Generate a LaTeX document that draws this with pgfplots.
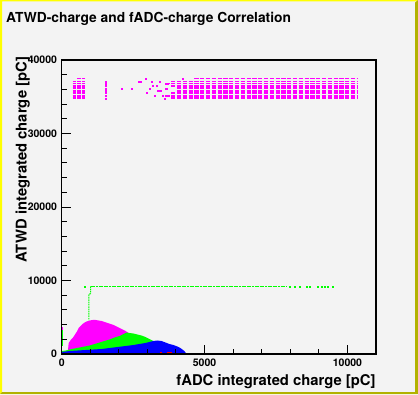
\documentclass[border=0pt]{standalone}
\usepackage{fontspec}
\setmainfont{TeX Gyre Heros}
\usepackage{pgfplots}
\pgfplotsset{compat=1.18}
\definecolor{bgc}{RGB}{243,243,243}
\definecolor{ylw}{RGB}{255,255,0}
\definecolor{olv}{RGB}{178,178,0}
\definecolor{rmag}{RGB}{255,0,255}
\definecolor{rgrn}{RGB}{0,255,0}
\definecolor{rblu}{RGB}{0,0,255}
\definecolor{rred}{RGB}{255,0,0}
\begin{document}
\begin{tikzpicture}[x=1pt,y=1pt]
\path[use as bounding box] (0,0) rectangle (418,394);
\fill[bgc] (0,0) rectangle (418,394);
\fill[ylw] (0,0) -- (0,394) -- (418,394) -- (416,392.5) -- (2,392.5) -- (2,2) -- cycle;
\fill[olv] (0,0) -- (418,0) -- (418,394) -- (415,391.5) -- (415,2) -- (2,2) -- cycle;
\begin{axis}[
  at={(61.7pt,40pt)}, anchor=south west,
  scale only axis, width=314.3pt, height=294pt,
  xmin=0, xmax=11000, ymin=0, ymax=40000,
  axis on top,
  axis line style={line width=1.2pt},
  xtick={0,5000,10000}, ytick={0,10000,20000,30000,40000},
  minor x tick num=4, minor y tick num=4,
  tick align=inside, tick pos=left,
  major tick length=9pt, minor tick length=5pt,
  tick style={black, line width=1pt},
  scaled ticks=false,
  /pgf/number format/assume math mode=true,
  /pgf/number format/1000 sep={},
  ticklabel style={font=\bfseries\fontsize{10.5}{12}\selectfont},
  xticklabel style={yshift=-1.8pt},
  yticklabel style={xshift=-1.2pt},
]
% magenta blob
\addplot[fill=rmag, draw=none] coordinates {
(209,0) (244,1497) (314,1905) (384,2177) (454,2585) (523,2993) (593,3537)
(663,3809) (733,4082) (803,4286) (873,4422) (977,4558) (1082,4626) (1187,4626)
(1291,4558) (1396,4490) (1501,4354) (1605,4218) (1710,4082) (1815,3945)
(1920,3741) (2024,3537) (2129,3333) (2234,3129) (2338,2857) (2443,2585)
(2583,2313) (2722,2109) (2897,1905) (3071,1701) (3246,1497) (3350,1224) (3420,0)
} \closedcycle;
% green blob
\addplot[fill=rgrn, draw=none] coordinates {
(0,0) (0,408) (140,476) (279,612) (454,748) (628,884) (803,1020) (977,1156)
(1152,1361) (1326,1565) (1501,1769) (1675,1973) (1850,2245) (2024,2449)
(2164,2721) (2269,2925) (2373,2857) (2513,2789) (2652,2653) (2792,2517)
(2932,2313) (3071,2041) (3211,1769) (3316,1497) (3420,1224) (3525,952)
(3630,680) (3769,408) (3874,136) (3944,0)
} \closedcycle;
% blue blob
\addplot[fill=rblu, draw=none] coordinates {
(0,0) (0,272) (140,340) (279,408) (558,476) (838,544) (1117,612) (1396,680)
(1675,816) (1954,952) (2234,1088) (2513,1224) (2722,1361) (2932,1497)
(3071,1633) (3211,1769) (3350,1837) (3490,1769) (3630,1565) (3769,1361)
(3909,1224) (4048,1020) (4153,816) (4223,612) (4293,408) (4345,136) (4362,0)
} \closedcycle;
% red points at bottom
\addplot[rred, line width=1.5pt] coordinates {(3440,150) (3525,150)};
\addplot[rred, line width=1.5pt] coordinates {(3700,150) (3875,150)};
% left edge
\addplot[rgrn, line width=1.2pt] coordinates {(35,1088) (35,3537)};
\addplot[rmag, line width=1.2pt] coordinates {(25,3300) (25,3650)};
% green plateau line
\addplot[rgrn, line width=1pt, dash pattern=on 2pt off 0.6pt] coordinates {(1015,9200) (7850,9200)};
\addplot[rgrn, line width=1pt, dash pattern=on 1.5pt off 0.8pt] coordinates {(1010,9200) (1010,8250) (950,8050) (950,4600)};
\addplot[rgrn, only marks, mark=square*, mark size=0.55pt] coordinates {
(791,9200) (7990,9200) (8166,9200) (8341,9200) (8575,9200) (8691,9200)
(8971,9200) (9100,9200) (9216,9200) (9321,9200) (9496,9200)};
% saturated band, dense part
\addplot[rmag, line width=1.1pt, dash pattern=on 4.3pt off 1.5pt] coordinates {(4641,37509) (10330,37509)};
\addplot[rmag, line width=1.1pt, dash pattern=on 4.3pt off 1.5pt] coordinates {(3829,37100) (10330,37100)};
\addplot[rmag, line width=1.1pt, dash pattern=on 4.3pt off 1.5pt] coordinates {(3626,36829) (10330,36829)};
\addplot[rmag, line width=1.7pt, dash pattern=on 4.3pt off 1.5pt] coordinates {(3829,36461) (10330,36461)};
\addplot[rmag, line width=1.7pt, dash pattern=on 4.3pt off 1.5pt] coordinates {(4032,36148) (10330,36148)};
\addplot[rmag, line width=1.7pt, dash pattern=on 4.3pt off 1.5pt] coordinates {(4032,35822) (10330,35822)};
\addplot[rmag, line width=1.7pt, dash pattern=on 4.3pt off 1.5pt] coordinates {(3829,35509) (10330,35509)};
\addplot[rmag, line width=1.7pt, dash pattern=on 4.3pt off 1.5pt] coordinates {(3626,35141) (10330,35141)};
\addplot[rmag, line width=1.7pt, dash pattern=on 4.3pt off 1.5pt] coordinates {(3829,34788) (10330,34788)};
% band, left cluster
\addplot[rmag, line width=1.1pt, dash pattern=on 3.3pt off 1.3pt] coordinates {(545,37509) (810,37509)};
\addplot[rmag, line width=1.1pt, dash pattern=on 3.3pt off 1.3pt] coordinates {(385,37100) (850,37100)};
\addplot[rmag, line width=1.1pt, dash pattern=on 3.3pt off 1.3pt] coordinates {(385,36829) (850,36829)};
\addplot[rmag, line width=1.7pt, dash pattern=on 3.3pt off 1.3pt] coordinates {(385,36461) (850,36461)};
\addplot[rmag, line width=1.7pt, dash pattern=on 3.3pt off 1.3pt] coordinates {(385,36148) (850,36148)};
\addplot[rmag, line width=1.7pt, dash pattern=on 3.3pt off 1.3pt] coordinates {(385,35822) (850,35822)};
\addplot[rmag, line width=1.7pt, dash pattern=on 3.3pt off 1.3pt] coordinates {(385,35509) (850,35509)};
\addplot[rmag, line width=1.7pt, dash pattern=on 3.3pt off 1.3pt] coordinates {(385,35141) (850,35141)};
\addplot[rmag, line width=1.7pt, dash pattern=on 3.3pt off 1.3pt] coordinates {(385,34788) (850,34788)};
% band, single column and scattered points
\addplot[rmag, only marks, mark=square*, mark size=0.6pt] coordinates {
(1526,37100) (1526,36829) (1526,36461) (1526,36148) (1526,35822) (1526,35509) (1526,35141) (1526,34788)
(2443,36148) (2687,37100) (2757,37100) (2932,37509) (2977,35509) (3071,36148)
(3151,37100) (3186,36461) (3246,35141) (3326,36461) (3361,35822) (3420,37100)
(3445,35822) (3535,35141) (3595,34788) (3630,36829) (3710,36829) (3654,36148)
(4233,37509) (2100,36148)};
\end{axis}
\node[anchor=base west, inner sep=0, font=\bfseries\fontsize{13.8}{16}\selectfont] at (6,371.5) {ATWD-charge and fADC-charge Correlation};
\node[rotate=90, anchor=base east, inner sep=0, font=\bfseries\fontsize{14.8}{17}\selectfont] at (26.7,337.3) {ATWD integrated charge [pC]};
\node[anchor=base east, inner sep=0, font=\bfseries\fontsize{14.8}{17}\selectfont] at (375.7,9) {fADC integrated charge [pC]};
\end{tikzpicture}
\end{document}
